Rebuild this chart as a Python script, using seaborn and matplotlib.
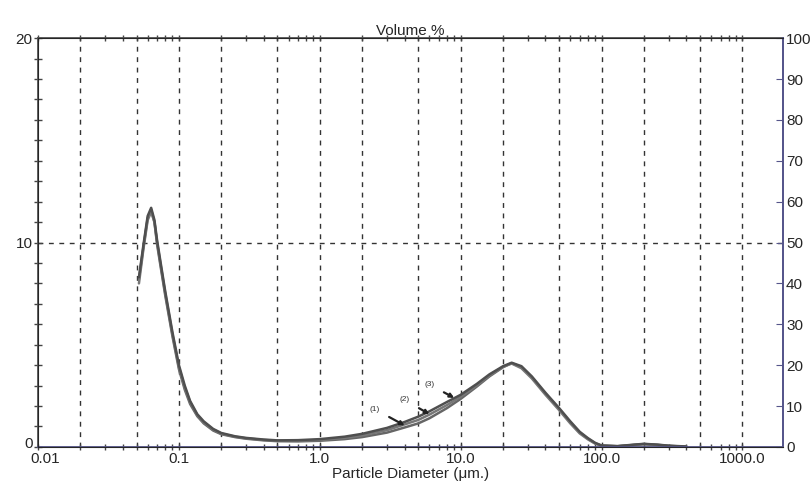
import matplotlib
matplotlib.use("Agg")
import matplotlib.pyplot as plt
import matplotlib.ticker as mticker
import matplotlib.transforms as mtrans
import seaborn as sns
import pandas as pd

# diameter (um) and volume % for the three runs
diameter = [0.052, 0.056, 0.06, 0.0635, 0.067, 0.07, 0.075, 0.08, 0.09, 0.1,
            0.11, 0.12, 0.135, 0.15, 0.175, 0.2, 0.25, 0.3, 0.4, 0.5,
            0.7, 1.0, 1.5, 2.0, 3.0, 4.0, 5.0, 6.0, 8.0, 10.0,
            13.0, 16.0, 20.0, 23.0, 27.0, 32.0, 40.0, 50.0, 60.0, 70.0,
            80.0, 90.0, 100.0, 130.0, 170.0, 200.0, 250.0, 300.0, 400.0]
run1 = [8.2, 9.8, 11.2, 11.6, 11.0, 9.9, 8.6, 7.4, 5.4, 3.8,
        2.8, 2.1, 1.5, 1.15, 0.8, 0.62, 0.48, 0.40, 0.32, 0.28,
        0.27, 0.30, 0.38, 0.48, 0.70, 0.95, 1.15, 1.40, 1.90, 2.35,
        2.95, 3.45, 3.90, 4.10, 3.90, 3.40, 2.60, 1.85, 1.20, 0.70,
        0.40, 0.18, 0.06, 0.03, 0.10, 0.14, 0.10, 0.05, 0.01]
run2 = [8.0, 9.7, 11.1, 11.5, 11.0, 10.0, 8.7, 7.5, 5.5, 3.9,
        2.9, 2.2, 1.55, 1.2, 0.85, 0.65, 0.50, 0.42, 0.34, 0.30,
        0.30, 0.34, 0.44, 0.56, 0.82, 1.10, 1.32, 1.58, 2.05, 2.45,
        3.00, 3.50, 3.92, 4.08, 3.85, 3.35, 2.55, 1.80, 1.15, 0.66,
        0.37, 0.16, 0.05, 0.03, 0.09, 0.13, 0.09, 0.04, 0.01]
run3 = [8.3, 9.9, 11.3, 11.7, 11.1, 10.1, 8.8, 7.6, 5.6, 4.0,
        3.0, 2.25, 1.6, 1.25, 0.88, 0.68, 0.52, 0.44, 0.36, 0.32,
        0.33, 0.38, 0.50, 0.64, 0.93, 1.22, 1.48, 1.74, 2.20, 2.55,
        3.08, 3.55, 3.95, 4.12, 3.95, 3.45, 2.65, 1.90, 1.25, 0.74,
        0.43, 0.20, 0.07, 0.04, 0.11, 0.15, 0.11, 0.06, 0.02]
run_names = ["(1)", "(2)", "(3)"]

x_ticks = [0.01, 0.1, 1.0, 10.0, 100.0, 1000.0]
x_tick_labels = ["0.01", "0.1", "1.0", "10.0", "100.0", "1000.0"]
v_grid = [0.02, 0.05, 0.1, 0.2, 0.5, 1, 2, 5, 10, 20, 50, 100, 200, 500, 1000]
cum_ticks = list(range(0, 101, 10))

df = pd.concat([
    pd.DataFrame({"d": diameter, "v": run1, "run": run_names[0]}),
    pd.DataFrame({"d": diameter, "v": run2, "run": run_names[1]}),
    pd.DataFrame({"d": diameter, "v": run3, "run": run_names[2]}),
])

sns.set_style("white")
plt.rcParams["font.family"] = ["Liberation Sans Narrow", "Liberation Sans", "DejaVu Sans"]

fig = plt.figure(figsize=(8.1, 4.96), dpi=100)
ax = fig.add_axes([0.047, 0.099, 0.92, 0.824])

sns.lineplot(data=df, x="d", y="v", hue="run", palette=["#666666", "#777777", "#4f4f4f"],
             linewidth=1.8, legend=False, ax=ax, sort=False, estimator=None, units="run")

ax.set_xscale("log")
ax.set_xlim(0.01, 1950)
ax.set_ylim(0, 20)

# dashed grid
for g in v_grid:
    ax.axvline(g, color="#333333", lw=1.0, ls=(0, (3.5, 4)), zorder=0)
ax.axhline(10, color="#333333", lw=1.0, ls=(0, (3.5, 4)), zorder=0)

ax.set_xticks(x_ticks)
ax.set_xticklabels(x_tick_labels)
ax.xaxis.set_minor_locator(mticker.LogLocator(base=10, subs=range(2, 10)))
ax.xaxis.set_minor_formatter(mticker.NullFormatter())
ax.set_yticks([0, 10, 20])
ax.yaxis.set_minor_locator(mticker.MultipleLocator(1))
ax.tick_params(axis="x", which="both", direction="inout", top=True, bottom=True,
               length=5, width=1, color="#444444", labelsize=11, pad=1)
ax.tick_params(axis="y", which="both", direction="inout", left=True,
               length=6, width=1, color="#444444", labelsize=11, pad=1)

# nudge corner labels apart like the original print
ax.get_xticklabels()[0].set_transform(
    ax.get_xticklabels()[0].get_transform() + mtrans.ScaledTranslation(5 / 72, 0, fig.dpi_scale_trans))
ax.get_yticklabels()[0].set_transform(
    ax.get_yticklabels()[0].get_transform() + mtrans.ScaledTranslation(0, 3 / 72, fig.dpi_scale_trans))

for side in ["left", "top"]:
    ax.spines[side].set_color("#555555")
for side in ["bottom", "right"]:
    ax.spines[side].set_color("#55558a")
for sp in ax.spines.values():
    sp.set_linewidth(1.3)

ax.set_xlabel("Particle Diameter (\u03bcm.)", fontsize=11, labelpad=1)
ax.set_ylabel("")
ax.set_title("Volume %", fontsize=11, pad=-1)

# right axis, cumulative scale
ax2 = ax.twinx()
ax2.set_ylim(0, 100)
ax2.set_yticks(cum_ticks)
ax2.tick_params(axis="y", direction="in", length=5, color="#55558a", labelsize=11, pad=2)
ax2.spines["right"].set_color("#55558a")
ax2.spines["right"].set_linewidth(1.3)
ax2.grid(False)

# run labels with arrows
ann = [("(1)", (4.0, 1.05), (2.45, 1.85)),
       ("(2)", (6.0, 1.6), (4.0, 2.3)),
       ("(3)", (9.0, 2.4), (6.0, 3.05))]
for label, tip, txt in ann:
    ax.annotate(label, xy=tip, xytext=txt, fontsize=6, color="#333333",
                ha="center", va="center",
                arrowprops=dict(arrowstyle="-|>", color="#222222", lw=1.6,
                                mutation_scale=6, shrinkA=5, shrinkB=0))

fig.savefig("out.png", dpi=100)
